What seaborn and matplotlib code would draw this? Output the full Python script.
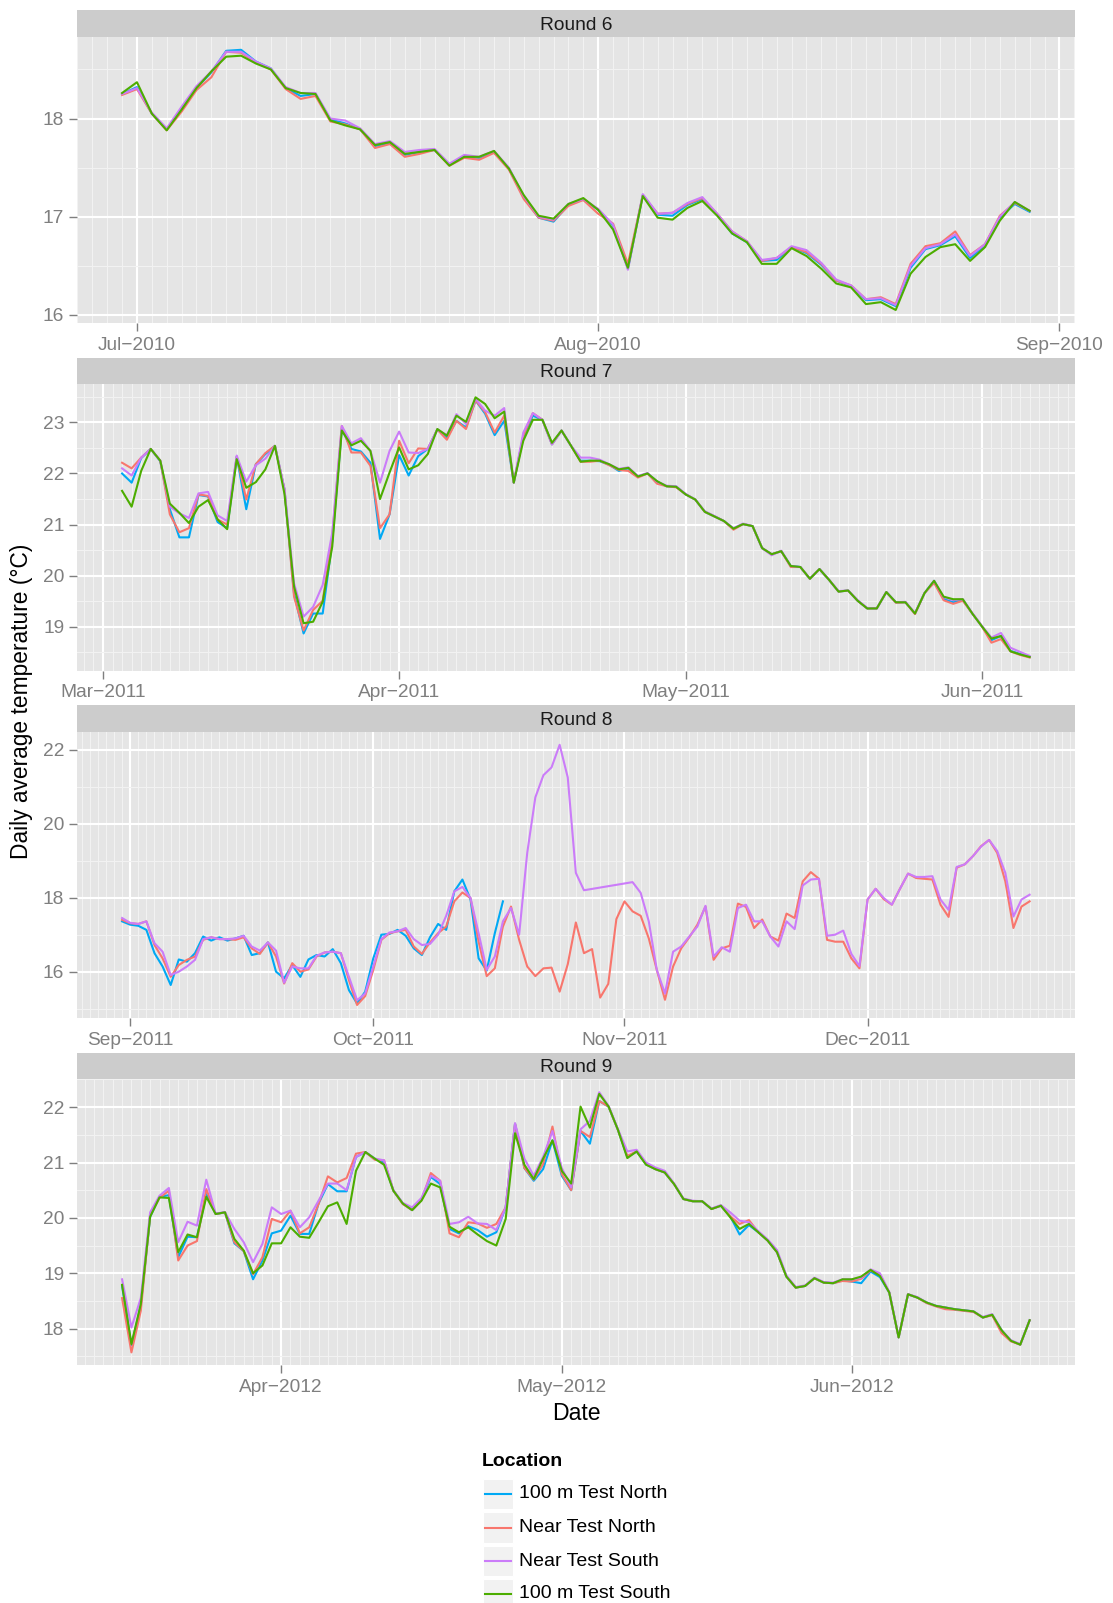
import numpy as np
import pandas as pd
import matplotlib
matplotlib.use("Agg")
import matplotlib.pyplot as plt
import matplotlib.dates as mdates
from matplotlib.ticker import MultipleLocator
from matplotlib.patches import Rectangle
from matplotlib.lines import Line2D
import seaborn as sns

# ---------------- data ----------------
LOCATIONS = ["100 m Test North", "Near Test North", "Near Test South", "100 m Test South"]
COLORS = ["#00A9F4", "#F8766D", "#CB7CF9", "#4CAD00"]
ROUNDS = ["Round 6", "Round 7", "Round 8", "Round 9"]

# Round 6: daily from 2010-06-30
R6_START = "2010-06-30"
R6_N100 = [18.25,
           18.32, 18.05, 17.89, 18.10, 18.31, 18.47, 18.69, 18.70, 18.58, 18.51, 18.31, 18.23, 18.25, 17.99, 17.95, 17.89,
           17.72, 17.75, 17.63, 17.66, 17.68, 17.53, 17.61, 17.60, 17.66, 17.49, 17.20, 16.99, 16.95, 17.12, 17.18,
           17.07, 16.91, 16.47, 17.22, 17.02, 17.01, 17.12, 17.18, 17.02, 16.83, 16.74, 16.55, 16.56, 16.69, 16.63,
           16.51, 16.35, 16.29, 16.15, 16.16, 16.09, 16.48, 16.67, 16.71, 16.80, 16.58, 16.71, 16.99, 17.13, 17.05]
R6_NEAR_N = [18.24,
             18.30, 18.05, 17.88, 18.07, 18.29, 18.42, 18.68, 18.67, 18.57, 18.50, 18.30, 18.20, 18.23, 17.97, 17.94, 17.89,
             17.70, 17.74, 17.61, 17.64, 17.68, 17.52, 17.60, 17.58, 17.65, 17.48, 17.18, 16.99, 16.96, 17.11, 17.17,
             17.03, 16.93, 16.52, 17.22, 17.03, 17.04, 17.13, 17.19, 17.03, 16.85, 16.75, 16.55, 16.58, 16.69, 16.64,
             16.52, 16.35, 16.30, 16.16, 16.18, 16.11, 16.52, 16.70, 16.73, 16.85, 16.61, 16.72, 17.01, 17.14, 17.06]
R6_NEAR_S = [18.25,
             18.31, 18.06, 17.90, 18.12, 18.33, 18.48, 18.68, 18.68, 18.58, 18.51, 18.32, 18.26, 18.26, 18.00, 17.98, 17.90,
             17.74, 17.77, 17.66, 17.68, 17.69, 17.54, 17.63, 17.61, 17.67, 17.50, 17.21, 17.00, 16.97, 17.13, 17.18,
             17.08, 16.92, 16.46, 17.23, 17.03, 17.04, 17.14, 17.20, 17.03, 16.85, 16.75, 16.56, 16.58, 16.70, 16.66,
             16.53, 16.36, 16.30, 16.16, 16.17, 16.10, 16.50, 16.68, 16.72, 16.82, 16.60, 16.72, 17.00, 17.15, 17.06]
R6_S100 = [18.26,
           18.37, 18.05, 17.88, 18.09, 18.31, 18.48, 18.63, 18.64, 18.56, 18.50, 18.31, 18.26, 18.25, 17.98, 17.93, 17.89,
           17.73, 17.76, 17.64, 17.66, 17.68, 17.52, 17.61, 17.61, 17.67, 17.49, 17.22, 17.01, 16.98, 17.13, 17.19,
           17.07, 16.87, 16.48, 17.21, 16.99, 16.97, 17.09, 17.16, 17.01, 16.83, 16.74, 16.52, 16.52, 16.68, 16.60,
           16.47, 16.32, 16.28, 16.11, 16.13, 16.05, 16.42, 16.59, 16.69, 16.72, 16.55, 16.69, 16.96, 17.15, 17.06]

# Round 7: daily from 2011-03-03
R7_START = "2011-03-03"
R7_N100 = [22.00, 21.82, 22.30, 22.48, 22.24, 21.30, 20.75, 20.75, 21.58, 21.55, 21.05, 20.93, 22.33, 21.30, 22.18,
           22.38, 22.54, 21.69, 19.65, 18.87, 19.26, 19.26, 20.67, 22.87, 22.48, 22.43, 22.21, 20.72, 21.20,
           22.36, 21.96, 22.34, 22.48, 22.86, 22.70, 23.03, 22.90, 23.43, 23.17, 22.75, 23.03, 21.82, 22.72, 23.13,
           23.05, 22.57, 22.84, 22.54, 22.25, 22.25, 22.24, 22.17, 22.05, 22.10, 21.94, 22.00, 21.84, 21.75, 21.74,
           21.59, 21.49, 21.25, 21.16, 21.07, 20.92, 21.01, 20.97, 20.54, 20.42, 20.48, 20.19, 20.17, 19.94, 20.13,
           19.92, 19.69, 19.71, 19.51, 19.36, 19.36, 19.68, 19.48, 19.48, 19.26, 19.66, 19.90, 19.55, 19.48, 19.53, 19.26,
           19.01, 18.74, 18.82, 18.53, 18.47, 18.41]
R7_NEAR_N = [22.21, 22.10, 22.31, 22.48, 22.25, 21.20, 20.85, 20.93, 21.59, 21.56, 21.10, 21.00, 22.33, 21.49, 22.18,
             22.40, 22.54, 21.69, 19.59, 18.93, 19.33, 19.51, 20.77, 22.93, 22.41, 22.41, 22.15, 20.93, 21.20,
             22.64, 22.20, 22.49, 22.48, 22.86, 22.66, 23.03, 22.87, 23.43, 23.20, 22.80, 23.13, 21.82, 22.74, 23.18,
             23.05, 22.57, 22.84, 22.54, 22.23, 22.23, 22.25, 22.16, 22.07, 22.05, 21.92, 22.00, 21.80, 21.75, 21.73,
             21.59, 21.49, 21.25, 21.16, 21.07, 20.90, 21.01, 20.97, 20.54, 20.42, 20.48, 20.17, 20.17, 19.94, 20.13,
             19.92, 19.69, 19.71, 19.51, 19.36, 19.36, 19.68, 19.47, 19.48, 19.25, 19.66, 19.86, 19.52, 19.45, 19.51, 19.26,
             19.01, 18.69, 18.76, 18.52, 18.45, 18.40]
R7_NEAR_S = [22.10, 21.96, 22.31, 22.48, 22.25, 21.35, 21.22, 21.13, 21.61, 21.64, 21.18, 21.07, 22.35, 21.84, 22.16,
             22.29, 22.54, 21.69, 19.85, 19.20, 19.39, 19.82, 20.84, 22.93, 22.59, 22.69, 22.44, 21.82, 22.44,
             22.82, 22.41, 22.40, 22.48, 22.86, 22.75, 23.16, 22.97, 23.46, 23.23, 23.13, 23.28, 21.82, 22.80, 23.18,
             23.05, 22.57, 22.84, 22.54, 22.31, 22.31, 22.27, 22.18, 22.09, 22.12, 21.95, 22.01, 21.84, 21.76, 21.75,
             21.60, 21.49, 21.26, 21.17, 21.07, 20.93, 21.02, 20.97, 20.54, 20.40, 20.49, 20.19, 20.17, 19.94, 20.13,
             19.92, 19.70, 19.71, 19.52, 19.37, 19.36, 19.68, 19.48, 19.49, 19.27, 19.66, 19.90, 19.58, 19.52, 19.54, 19.27,
             19.02, 18.79, 18.88, 18.59, 18.51, 18.43]
R7_S100 = [21.66, 21.35, 22.05, 22.48, 22.25, 21.41, 21.23, 21.03, 21.35, 21.48, 21.10, 20.91, 22.28, 21.72, 21.83,
           22.08, 22.54, 21.60, 19.79, 19.07, 19.10, 19.49, 20.57, 22.84, 22.55, 22.64, 22.44, 21.50, 22.02,
           22.51, 22.08, 22.16, 22.38, 22.87, 22.74, 23.13, 23.01, 23.49, 23.36, 23.08, 23.21, 21.82, 22.64, 23.05,
           23.05, 22.60, 22.84, 22.54, 22.23, 22.25, 22.25, 22.18, 22.08, 22.11, 21.94, 22.00, 21.85, 21.75, 21.74,
           21.59, 21.49, 21.25, 21.16, 21.07, 20.92, 21.01, 20.97, 20.54, 20.42, 20.48, 20.19, 20.17, 19.94, 20.13,
           19.92, 19.69, 19.71, 19.51, 19.36, 19.36, 19.68, 19.48, 19.48, 19.26, 19.66, 19.90, 19.59, 19.54, 19.54, 19.26,
           19.01, 18.77, 18.82, 18.52, 18.46, 18.41]

# Round 8: daily from 2011-08-31 (None = no reading)
R8_START = "2011-08-31"
R8_N100 = [17.36,
           17.27, 17.24, 17.13, 16.50, 16.14, 15.64, 16.33, 16.27, 16.50, 16.95, 16.84, 16.93, 16.84, 16.90, 16.97,
           16.45, 16.50, 16.79, 16.00, 15.82, 16.18, 15.86, 16.33, 16.45, 16.41, 16.61, 16.23, 15.50, 15.14, 15.46,
           16.36, 17.00, 17.02, 17.13, 16.97, 16.63, 16.45, 16.93, 17.29, 17.13, 18.17, 18.49, 17.95, 16.36, 16.03,
           17.04, 17.90]
R8_NEAR_N = [17.40,
             17.31, 17.29, 17.36, 16.72, 16.36, 15.86, 16.18, 16.32, 16.41, 16.86, 16.93, 16.88, 16.88, 16.86, 16.93,
             16.63, 16.48, 16.79, 16.41, 15.68, 16.23, 16.00, 16.06, 16.41, 16.52, 16.54, 16.50, 15.77, 15.10, 15.34,
             16.05, 16.86, 17.04, 17.09, 17.13, 16.68, 16.48, 16.79, 17.04, 17.22, 17.90, 18.14, 17.99, 16.81, 15.88,
             16.09, 17.22, 17.76, 16.86, 16.14, 15.88, 16.09, 16.11, 15.46, 16.20, 17.33, 16.50, 16.61, 15.30, 15.67, 17.42,
             17.90, 17.63, 17.51, 16.90, 16.04, 15.24, 16.14, 16.63, 16.93, 17.27, 17.76, 16.32, 16.63, 16.70, 17.84,
             17.75, 17.18, 17.41, 16.95, 16.84, 17.57, 17.45, 18.44, 18.69, 18.51, 16.86, 16.81, 16.81, 16.36, 16.09,
             17.95, 18.24, 17.96, 17.81, 18.24, 18.65, 18.53, 18.51, 18.49, 17.81, 17.48, 18.81, 18.90, 19.12, 19.39,
             19.56, 19.21, 18.44, 17.18, 17.76, 17.90]
R8_NEAR_S = [17.45,
             17.32, 17.29, 17.36, 16.77, 16.54, 15.91, 16.00, 16.14, 16.32, 16.88, 16.93, 16.88, 16.88, 16.90, 16.97,
             16.68, 16.57, 16.79, 16.57, 15.70, 16.14, 16.09, 16.09, 16.43, 16.52, 16.54, 16.50, 15.86, 15.23, 15.41,
             16.14, 16.88, 17.06, 17.09, 17.18, 16.88, 16.72, 16.75, 17.00, 17.51, 18.17, 18.29, 17.99, 17.04, 16.05,
             16.41, 17.36, 17.72, 17.00, 19.21, 20.71, 21.31, 21.52, 22.13, 21.25, 18.67, 18.20, None, None, None, None,
             None, 18.42, 18.13, 17.36, 16.04, 15.41, 16.54, 16.68, 16.95, 17.22, 17.78, 16.41, 16.66, 16.54, 17.72,
             17.81, 17.36, 17.36, 16.95, 16.68, 17.36, 17.15, 18.33, 18.49, 18.51, 16.97, 17.00, 17.11, 16.48, 16.15,
             17.95, 18.24, 17.99, 17.81, 18.24, 18.65, 18.56, 18.56, 18.58, 17.95, 17.67, 18.83, 18.90, 19.12, 19.38,
             19.56, 19.26, 18.67, 17.49, 17.95, 18.08]
R8_S100 = []

# Round 9: daily from 2012-03-15
R9_START = "2012-03-15"
R9_N100 = [18.77, 17.70, 18.42, 20.02, 20.38, 20.41, 19.29, 19.66, 19.65, 20.43, 20.07, 20.10, 19.54, 19.40, 18.89,
           19.23, 19.72,
           19.77, 20.04, 19.71, 19.71, 20.26, 20.61, 20.48, 20.48, 21.10, 21.19, 21.07, 21.00, 20.49, 20.26, 20.14,
           20.33, 20.74, 20.61, 19.80, 19.72, 19.85, 19.78, 19.66, 19.74, 20.19, 21.70, 20.90, 20.67, 20.88, 21.40,
           20.76, 20.50, 21.57, 21.34, 22.11, 22.01, 21.59, 21.10, 21.20, 20.97, 20.88, 20.82, 20.61, 20.34, 20.30,
           20.30, 20.16, 20.22, 20.03, 19.70, 19.87, 19.74, 19.59, 19.38, 18.94, 18.74, 18.77, 18.91, 18.83, 18.82, 18.87,
           18.85, 18.82, 19.03, 18.93, 18.65, 17.84, 18.62, 18.56, 18.47, 18.41, 18.38, 18.35, 18.33, 18.31, 18.20,
           18.25, 17.97, 17.78, 17.71, 18.15]
R9_NEAR_N = [18.55, 17.57, 18.32, 20.05, 20.36, 20.49, 19.23, 19.50, 19.58, 20.52, 20.07, 20.10, 19.56, 19.40, 18.98,
             19.29, 19.98,
             19.92, 20.13, 19.72, 19.83, 20.25, 20.75, 20.64, 20.72, 21.16, 21.19, 21.05, 21.04, 20.49, 20.25, 20.14,
             20.32, 20.81, 20.67, 19.72, 19.65, 19.92, 19.90, 19.82, 19.89, 20.19, 21.70, 20.90, 20.69, 20.97, 21.65,
             20.79, 20.50, 21.57, 21.46, 22.11, 22.01, 21.59, 21.12, 21.20, 20.98, 20.88, 20.82, 20.61, 20.34, 20.30,
             20.30, 20.16, 20.22, 20.03, 19.89, 19.96, 19.74, 19.59, 19.38, 18.94, 18.74, 18.77, 18.91, 18.83, 18.82, 18.86,
             18.85, 18.90, 19.05, 18.98, 18.65, 17.84, 18.62, 18.56, 18.46, 18.40, 18.35, 18.34, 18.32, 18.30, 18.20,
             18.24, 17.92, 17.77, 17.71, 18.15]
R9_NEAR_S = [18.89, 18.02, 18.55, 20.10, 20.40, 20.54, 19.56, 19.93, 19.86, 20.69, 20.08, 20.10, 19.80, 19.56, 19.20,
             19.53, 20.19,
             20.07, 20.13, 19.83, 20.01, 20.31, 20.62, 20.62, 20.50, 21.10, 21.19, 21.07, 21.04, 20.50, 20.27, 20.19,
             20.36, 20.76, 20.67, 19.89, 19.92, 20.02, 19.90, 19.89, 19.78, 20.19, 21.71, 21.07, 20.76, 21.10, 21.57,
             20.90, 20.55, 21.60, 21.75, 22.27, 22.02, 21.60, 21.20, 21.23, 21.00, 20.91, 20.85, 20.62, 20.35, 20.31,
             20.30, 20.17, 20.23, 20.10, 19.95, 19.92, 19.76, 19.61, 19.42, 18.96, 18.75, 18.78, 18.92, 18.84, 18.83, 18.89,
             18.89, 18.92, 19.07, 19.00, 18.66, 17.85, 18.62, 18.57, 18.47, 18.41, 18.38, 18.35, 18.33, 18.31, 18.21,
             18.26, 17.97, 17.79, 17.72, 18.15]
R9_S100 = [18.79, 17.72, 18.44, 20.02, 20.37, 20.36, 19.38, 19.70, 19.65, 20.38, 20.07, 20.10, 19.62, 19.41, 19.00,
           19.14, 19.54,
           19.54, 19.83, 19.66, 19.64, 19.92, 20.21, 20.28, 19.89, 20.85, 21.19, 21.07, 20.96, 20.49, 20.26, 20.14,
           20.31, 20.62, 20.55, 19.84, 19.74, 19.83, 19.70, 19.58, 19.50, 19.98, 21.53, 20.96, 20.70, 21.07, 21.40,
           20.85, 20.62, 22.01, 21.63, 22.24, 22.01, 21.59, 21.08, 21.20, 20.96, 20.88, 20.82, 20.61, 20.34, 20.30,
           20.30, 20.16, 20.22, 20.01, 19.80, 19.89, 19.74, 19.59, 19.38, 18.94, 18.74, 18.77, 18.91, 18.83, 18.82, 18.89,
           18.89, 18.94, 19.06, 18.95, 18.65, 17.84, 18.62, 18.56, 18.47, 18.41, 18.38, 18.35, 18.33, 18.31, 18.20,
           18.25, 17.97, 17.78, 17.71, 18.15]

Y_MAJOR_STEP = [1, 1, 2, 1]

# ---------------- build long table ----------------
round_inputs = [
    (ROUNDS[0], R6_START, [R6_N100, R6_NEAR_N, R6_NEAR_S, R6_S100]),
    (ROUNDS[1], R7_START, [R7_N100, R7_NEAR_N, R7_NEAR_S, R7_S100]),
    (ROUNDS[2], R8_START, [R8_N100, R8_NEAR_N, R8_NEAR_S, R8_S100]),
    (ROUNDS[3], R9_START, [R9_N100, R9_NEAR_N, R9_NEAR_S, R9_S100]),
]
frames = []
for rnd, start, series in round_inputs:
    for loc, vals in zip(LOCATIONS, series):
        if len(vals) == 0:
            continue
        dates = pd.date_range(start, periods=len(vals), freq="D")
        frames.append(pd.DataFrame({"Round": rnd, "Location": loc, "Date": dates,
                                    "Temp": np.array([np.nan if v is None else v for v in vals], dtype=float)}))
df = pd.concat(frames, ignore_index=True).dropna()
palette = dict(zip(LOCATIONS, COLORS))

# ---------------- figure ----------------
W, H = 1113, 1603
fig = plt.figure(figsize=(W / 100, H / 100), dpi=100)
plt.rcParams["font.family"] = ["Liberation Sans", "DejaVu Sans"]
fx = lambda px: px / W
fy = lambda py: 1 - py / H

LEFT, RIGHT = 76.7, 1075.0
PANEL_TOPS = [36.8, 384.3, 731.8, 1079.2]
PANEL_H = 286.2
STRIP_H = 26.6

for i, rnd in enumerate(ROUNDS):
    top = PANEL_TOPS[i]
    ax = fig.add_axes([fx(LEFT), fy(top + PANEL_H), fx(RIGHT) - fx(LEFT), PANEL_H / H])
    sax = fig.add_axes([fx(LEFT), fy(top), fx(RIGHT) - fx(LEFT), STRIP_H / H])
    sax.set_facecolor("#CCCCCC")
    sax.set_xticks([]); sax.set_yticks([])
    for s in sax.spines.values():
        s.set_visible(False)
    sax.text(0.5, 0.44, rnd, ha="center", va="center", fontsize=13.8, color="#1A1A1A",
             transform=sax.transAxes)

    sub = df[df["Round"] == rnd]
    present = [l for l in LOCATIONS if l in set(sub["Location"])]
    ax.set_facecolor("#E5E5E5")
    ax.set_axisbelow(True)
    sns.lineplot(data=sub, x="Date", y="Temp", hue="Location", hue_order=present,
                 palette=palette, ax=ax, legend=False, linewidth=1.5, estimator=None, sort=True)

    # ggplot-like 5% expansion
    xn = mdates.date2num(sub["Date"].values)
    x0, x1 = xn.min(), xn.max()
    dx = (x1 - x0) * 0.05
    ax.set_xlim(x0 - dx, x1 + dx)
    y0, y1 = sub["Temp"].min(), sub["Temp"].max()
    dy = (y1 - y0) * 0.05
    ax.set_ylim(y0 - dy, y1 + dy)

    ax.xaxis.set_major_locator(mdates.MonthLocator())
    ax.xaxis.set_major_formatter(mdates.DateFormatter("%b\u2212%Y"))
    ax.xaxis.set_minor_locator(mdates.DayLocator())
    step = Y_MAJOR_STEP[i]
    ax.yaxis.set_major_locator(MultipleLocator(step))
    ax.yaxis.set_minor_locator(MultipleLocator(step / 2))

    ax.grid(which="major", color="white", linewidth=1.5)
    ax.grid(which="minor", color="#F2F2F2", linewidth=0.75)
    ax.tick_params(which="major", length=6, width=1.0, color="#7F7F7F", labelcolor="#7F7F7F",
                   labelsize=13.8)
    ax.tick_params(axis="x", which="major", pad=4)
    ax.tick_params(axis="y", which="major", pad=3)
    ax.tick_params(which="minor", length=0)
    for s in ax.spines.values():
        s.set_visible(False)
    ax.set_xlabel("")
    ax.set_ylabel("")

# axis titles
fig.text(fx(22), fy(701), "Daily average temperature (°C)", rotation=90,
         ha="center", va="center", fontsize=16.4, color="black")
fig.text(fx(576), fy(1413), "Date", ha="center", va="center", fontsize=16.6, color="black")

# legend (ggplot-style, below the panels)
fig.text(fx(482), fy(1461), "Location", ha="left", va="center", fontsize=14,
         fontweight="bold", color="black")
key_centers = [1494, 1527.5, 1561, 1594]
for loc, col, yc in zip(LOCATIONS, COLORS, key_centers):
    fig.add_artist(Rectangle((fx(482.5), fy(yc + 15.2)), (513 - 482.5) / W, 30.4 / H,
                             transform=fig.transFigure, facecolor="#F2F2F2", edgecolor="white",
                             linewidth=0.8))
    fig.add_artist(Line2D([fx(485), fx(511)], [fy(yc), fy(yc)], transform=fig.transFigure,
                          color=col, linewidth=1.5))
    fig.text(fx(519), fy(yc), loc, ha="left", va="center", fontsize=14, color="black")

fig.savefig("out.png", dpi=100, facecolor="white")
